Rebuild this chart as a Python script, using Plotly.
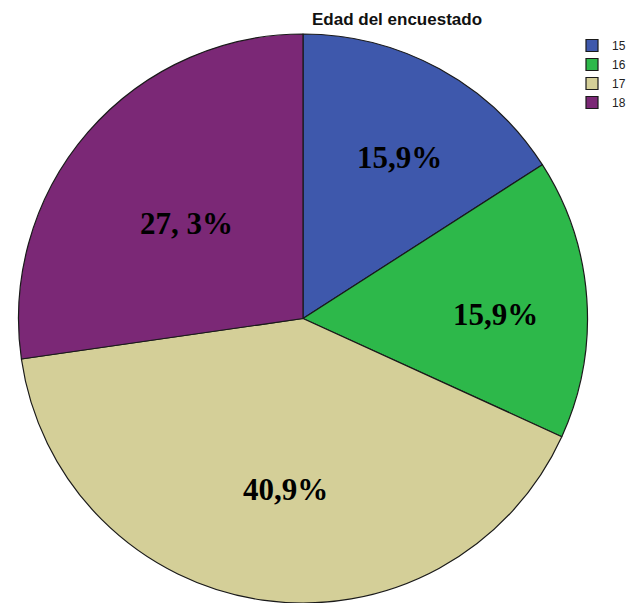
import plotly.graph_objects as go

categories = ["15", "16", "17", "18"]
counts = [7, 7, 18, 12]
pct_labels = ["15,9%", "15,9%", "40,9%", "27, 3%"]
colors = ["#3E58AC", "#2DB84A", "#D4CF98", "#7B2876"]

W, H = 631, 603

fig = go.Figure()
fig.add_trace(go.Pie(
    labels=categories,
    values=counts,
    sort=False,
    direction="clockwise",
    rotation=0,
    marker=dict(colors=colors, line=dict(color="#1a1a1a", width=1.2)),
    textinfo="none",
    hoverinfo="label+percent",
    domain=dict(x=[18.5 / W, 587.5 / W], y=[0.0, 1 - 34 / H]),
))

# label positions (pixel) converted to paper coords
label_px = [(399, 157), (495, 314), (285, 489), (186, 224)]
for (px, py), txt in zip(label_px, pct_labels):
    fig.add_annotation(
        x=px / W, y=1 - py / H, xref="paper", yref="paper",
        text="<b>" + txt + "</b>", showarrow=False,
        font=dict(family="Liberation Serif, Times New Roman, serif", size=31, color="black"),
        xanchor="center", yanchor="middle",
    )

fig.update_layout(
    width=W, height=H,
    margin=dict(l=0, r=0, t=0, b=0, autoexpand=False),
    paper_bgcolor="white",
    plot_bgcolor="white",
    title=dict(
        text="<b>Edad del encuestado</b>",
        x=397 / W, xanchor="center",
        y=1 - 19 / H, yanchor="middle",
        font=dict(family="Liberation Sans, Arial, sans-serif", size=17, color="#111111"),
    ),
    legend=dict(
        x=1.0, xanchor="right",
        y=1 - 31 / H, yanchor="top",
        font=dict(family="Liberation Sans, Arial, sans-serif", size=12, color="#222222"),
        bgcolor="rgba(0,0,0,0)",
        itemwidth=30,
        tracegroupgap=0,
    ),
)

fig.write_html(
    "out.html",
    config={"displayModeBar": False},
    post_script="document.body.style.margin='0';document.body.style.overflow='hidden';",
)
